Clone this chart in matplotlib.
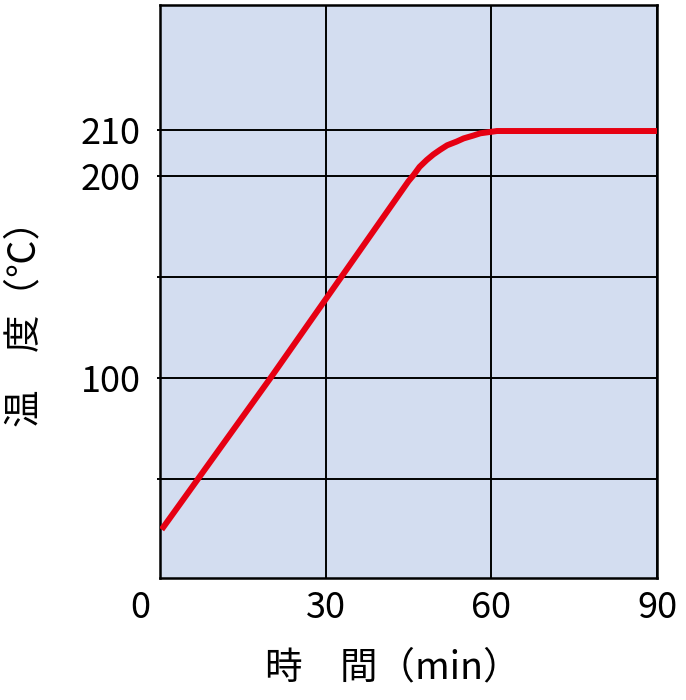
import numpy as np
import matplotlib.pyplot as plt
import matplotlib.transforms as mtransforms

plt.rcParams['font.family'] = ['Noto Sans CJK JP', 'DejaVu Sans']

# 昇温カーブ
time_min = [0.3, 20.0, 45.0, 45.9, 47.0, 48.3, 49.5, 50.7, 52.0, 53.7,
            55.0, 56.7, 58.0, 59.8, 61.0, 63.0, 90.0]
temp_c = [25, 100, 197.5, 200.2, 202.0, 203.5, 204.7, 205.7, 206.7, 207.5,
          208.2, 208.8, 209.3, 209.6, 209.8, 209.8, 209.8]

x_ticks = [0, 30, 60, 90]
x_labels = ['0', '30', '60', '90']
y_ticks = [50, 100, 150, 200, 210]
y_labels = ['', '100', '', '200', '210']

# 200℃より上は縦に引き伸ばした目盛り
STRETCH = 4.6 / 2.02


def forward(v):
    v = np.asarray(v, dtype=float)
    return np.where(v <= 200, v, 200 + (v - 200) * STRETCH)


def inverse(v):
    v = np.asarray(v, dtype=float)
    return np.where(v <= 200, v, 200 + (v - 200) / STRETCH)


fig = plt.figure(figsize=(6.86, 7.0), dpi=100)
ax = fig.add_axes([160 / 686, 1 - 578 / 700, 497 / 686, 573 / 700])
ax.set_facecolor('#d3ddf0')
ax.set_yscale('function', functions=(forward, inverse))

ax.plot(time_min, temp_c, color='#e60012', lw=4.3, solid_capstyle='butt',
        solid_joinstyle='round', zorder=3)

ax.set_xlim(0, 90)
ax.set_ylim(1, 237.2)
ax.set_xticks(x_ticks)
ax.set_xticklabels(x_labels)
ax.set_yticks(y_ticks)
ax.set_yticklabels(y_labels)
ax.minorticks_off()
ax.grid(True, color='black', lw=1.4, zorder=1)
ax.set_axisbelow(True)
for s in ax.spines.values():
    s.set_linewidth(1.8)
ax.tick_params(axis='y', length=2, width=1.4, pad=12, labelsize=26)
ax.tick_params(axis='x', length=0, pad=9, labelsize=26)

# 原点の「0」は少し左に寄せる
lab0 = ax.get_xticklabels()[0]
lab0.set_transform(lab0.get_transform() +
                   mtransforms.ScaledTranslation(-0.2, 0, fig.dpi_scale_trans))

fig.text(265 / 686, 1 - 668 / 700, '時\u3000間（min）', fontsize=27,
         ha='left', va='center')
fig.text(25 / 686, 1 - 315 / 700, '温\u3000度（℃）', fontsize=27,
         ha='center', va='center', rotation=90)

fig.savefig('out.png', dpi=100)
